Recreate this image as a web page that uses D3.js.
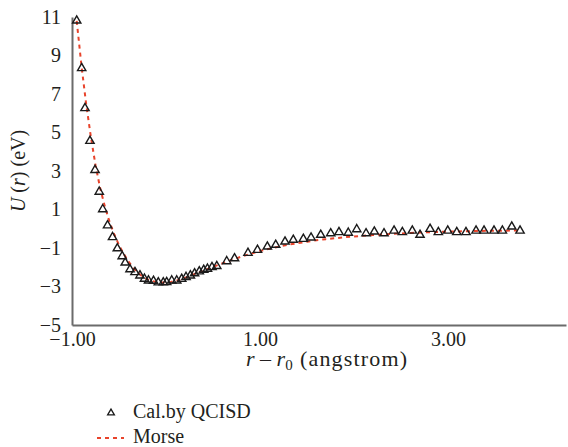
<!DOCTYPE html>
<html>
<head>
<meta charset="utf-8">
<script src="https://cdn.jsdelivr.net/npm/d3@7"></script>
<style>
  html, body { margin: 0; padding: 0; background: #fff; }
  svg { display: block; }
  svg text { font-family: "Liberation Serif", "Times New Roman", Times, "DejaVu Serif", "Noto Serif", serif; fill: #231f20; }
</style>
</head>
<body>
<svg id="chart" width="568" height="447"></svg>
<script>
// Displacement from equilibrium r - r0 (angstrom) for the QCISD energies
const qcisdX = [
  -0.950, -0.897, -0.862, -0.809, -0.755, -0.710, -0.673, -0.622, -0.569, -0.518,
  -0.466, -0.434, -0.383, -0.330, -0.277, -0.229, -0.186, -0.133, -0.082, -0.029,
   0.007,  0.061,  0.114,  0.167,  0.213,  0.259,  0.304,  0.354,  0.401,  0.441,
   0.489,  0.540,  0.646,  0.729,  0.872,  0.973,  1.078,  1.167,  1.266,  1.354,
   1.461,  1.543,  1.646,  1.752,  1.840,  1.939,  2.029,  2.128,  2.216,  2.319,
   2.426,  2.514,  2.620,  2.702,  2.809,  2.897,  2.997,  3.093,  3.191,  3.298,
   3.383,  3.489,  3.578,  3.678,  3.766
];
// QCISD potential energy U(r) in eV
const qcisdU = [
  10.81,  8.34,  6.26,  4.56,  3.05,  1.92,  1.01,  0.17, -0.44, -1.02,
  -1.43, -1.76, -2.11, -2.26, -2.43, -2.60, -2.69, -2.71, -2.79, -2.79,
  -2.78, -2.69, -2.69, -2.61, -2.51, -2.43, -2.32, -2.22, -2.14, -2.08,
  -2.00, -1.94, -1.69, -1.54, -1.26, -1.10, -0.93, -0.84, -0.67, -0.58,
  -0.53, -0.46, -0.32, -0.24, -0.18, -0.21, -0.03, -0.24, -0.15, -0.24,
  -0.10, -0.18, -0.10, -0.32, -0.01, -0.18, -0.10, -0.18, -0.18, -0.10,
  -0.10, -0.10, -0.10,  0.11, -0.10
];

// Morse potential curve, sampled
const morseX = [
  -0.95, -0.90, -0.85, -0.80, -0.75, -0.70, -0.65, -0.60, -0.55, -0.50,
  -0.45, -0.40, -0.35, -0.30, -0.25, -0.20, -0.15, -0.10, -0.05,  0.00,
   0.05,  0.10,  0.15,  0.20,  0.25,  0.30,  0.35,  0.40,  0.50,  0.60,
   0.70,  0.80,  0.90,  1.00,  1.10,  1.20,  1.30,  1.40,  1.50,  1.60,
   1.70,  1.80,  1.90,  2.00,  2.20,  2.40,  2.60,  2.80,  3.00,  3.20,
   3.40,  3.60,  3.77
];
const morseU = [
  10.80,  8.50,  6.50,  4.80,  3.30,  2.10,  1.15,  0.35, -0.30, -0.85,
  -1.30, -1.70, -2.02, -2.28, -2.48, -2.62, -2.71, -2.77, -2.79, -2.79,
  -2.76, -2.71, -2.64, -2.55, -2.46, -2.36, -2.27, -2.17, -1.98, -1.80,
  -1.62, -1.45, -1.30, -1.16, -1.04, -0.93, -0.83, -0.75, -0.67, -0.60,
  -0.54, -0.49, -0.44, -0.40, -0.33, -0.27, -0.22, -0.18, -0.15, -0.13,
  -0.11, -0.10, -0.09
];

const xTicks = [-1, 1, 3];
const yTicks = [-5, -3, -1, 1, 3, 5, 7, 9, 11];
const legendLabels = ["Cal.by QCISD", "Morse"];

const FONT = "'Liberation Serif', 'Times New Roman', Times, 'DejaVu Serif', 'Noto Serif', serif";
const svg = d3.select("#chart");
const axisColor = "#6b6b6b";
const morseColor = "#e8432b";

const x = d3.scaleLinear().domain([-1, 4.255]).range([72, 566]);
const y = d3.scaleLinear().domain([-5, 11]).range([325, 17]);

const minus = s => s.replace("-", "\u2212");

// Axes: plain lines, no tick marks
const xAxis = svg.append("g")
  .attr("transform", `translate(0,${y(-5)})`)
  .call(d3.axisBottom(x).tickValues(xTicks).tickSize(0).tickSizeOuter(0).tickPadding(9)
    .tickFormat(d => minus(d3.format(".2f")(d))));
const yAxis = svg.append("g")
  .attr("transform", `translate(${x(-1)},0)`)
  .call(d3.axisLeft(y).tickValues(yTicks).tickSize(0).tickSizeOuter(0).tickPadding(11)
    .tickFormat(d => minus(String(d))));

[xAxis, yAxis].forEach(g => {
  g.attr("font-family", null).attr("font-size", null);
  g.select(".domain").attr("stroke", axisColor).attr("stroke-width", 2);
  g.selectAll("text")
    .style("font-family", FONT)
    .style("font-size", "20px")
    .attr("fill", "#231f20");
});
yAxis.selectAll("text").attr("dy", "0.3em");
xAxis.selectAll("text").attr("dy", "0.6em");

// Morse curve (dashed) under the computed points
const line = d3.line().x((d, i) => x(morseX[i])).y(d => y(d));
svg.append("path")
  .datum(morseU)
  .attr("fill", "none")
  .attr("stroke", morseColor)
  .attr("stroke-width", 2)
  .attr("stroke-dasharray", "4,4")
  .attr("d", line);

// QCISD points as open triangles
const tri = d3.symbol().type(d3.symbolTriangle).size(30);
svg.append("g").selectAll("path")
  .data(qcisdU)
  .join("path")
  .attr("d", tri)
  .attr("transform", (d, i) => `translate(${x(qcisdX[i])},${y(d)})`)
  .attr("fill", "none")
  .attr("stroke", "#1a1a1a")
  .attr("stroke-width", 1.4);

// Axis titles
const xt = svg.append("text")
  .attr("x", 246).attr("y", 366)
  .style("font-family", FONT)
  .style("font-size", "22px");
xt.append("tspan").style("font-style", "italic").text("r");
xt.append("tspan").text(" \u2013 ");
xt.append("tspan").style("font-style", "italic").text("r");
xt.append("tspan").attr("dy", 4).style("font-size", "15px").text("0");
svg.append("text")
  .attr("x", 300).attr("y", 366)
  .attr("textLength", 107).attr("lengthAdjust", "spacing")
  .style("font-family", FONT)
  .style("font-size", "22px")
  .text("(angstrom)");

const yt = svg.append("text")
  .attr("transform", "translate(25,171) rotate(-90)")
  .attr("text-anchor", "middle")
  .style("font-family", FONT)
  .style("font-size", "20px");
yt.append("tspan").style("font-style", "italic").text("U");
yt.append("tspan").text(" (");
yt.append("tspan").style("font-style", "italic").text("r");
yt.append("tspan").text(") (eV)");

// Legend
const legend = svg.append("g");
legend.append("path")
  .attr("d", d3.symbol().type(d3.symbolTriangle).size(20)())
  .attr("transform", "translate(111,413)")
  .attr("fill", "none")
  .attr("stroke", "#1a1a1a")
  .attr("stroke-width", 1.3);
legend.append("text").attr("x", 133).attr("y", 418)
  .style("font-family", FONT).style("font-size", "20px").text(legendLabels[0]);
legend.append("line")
  .attr("x1", 97).attr("x2", 124).attr("y1", 438).attr("y2", 438)
  .attr("stroke", morseColor).attr("stroke-width", 2).attr("stroke-dasharray", "4,4");
legend.append("text").attr("x", 133).attr("y", 443)
  .style("font-family", FONT).style("font-size", "20px").text(legendLabels[1]);
</script>
</body>
</html>
